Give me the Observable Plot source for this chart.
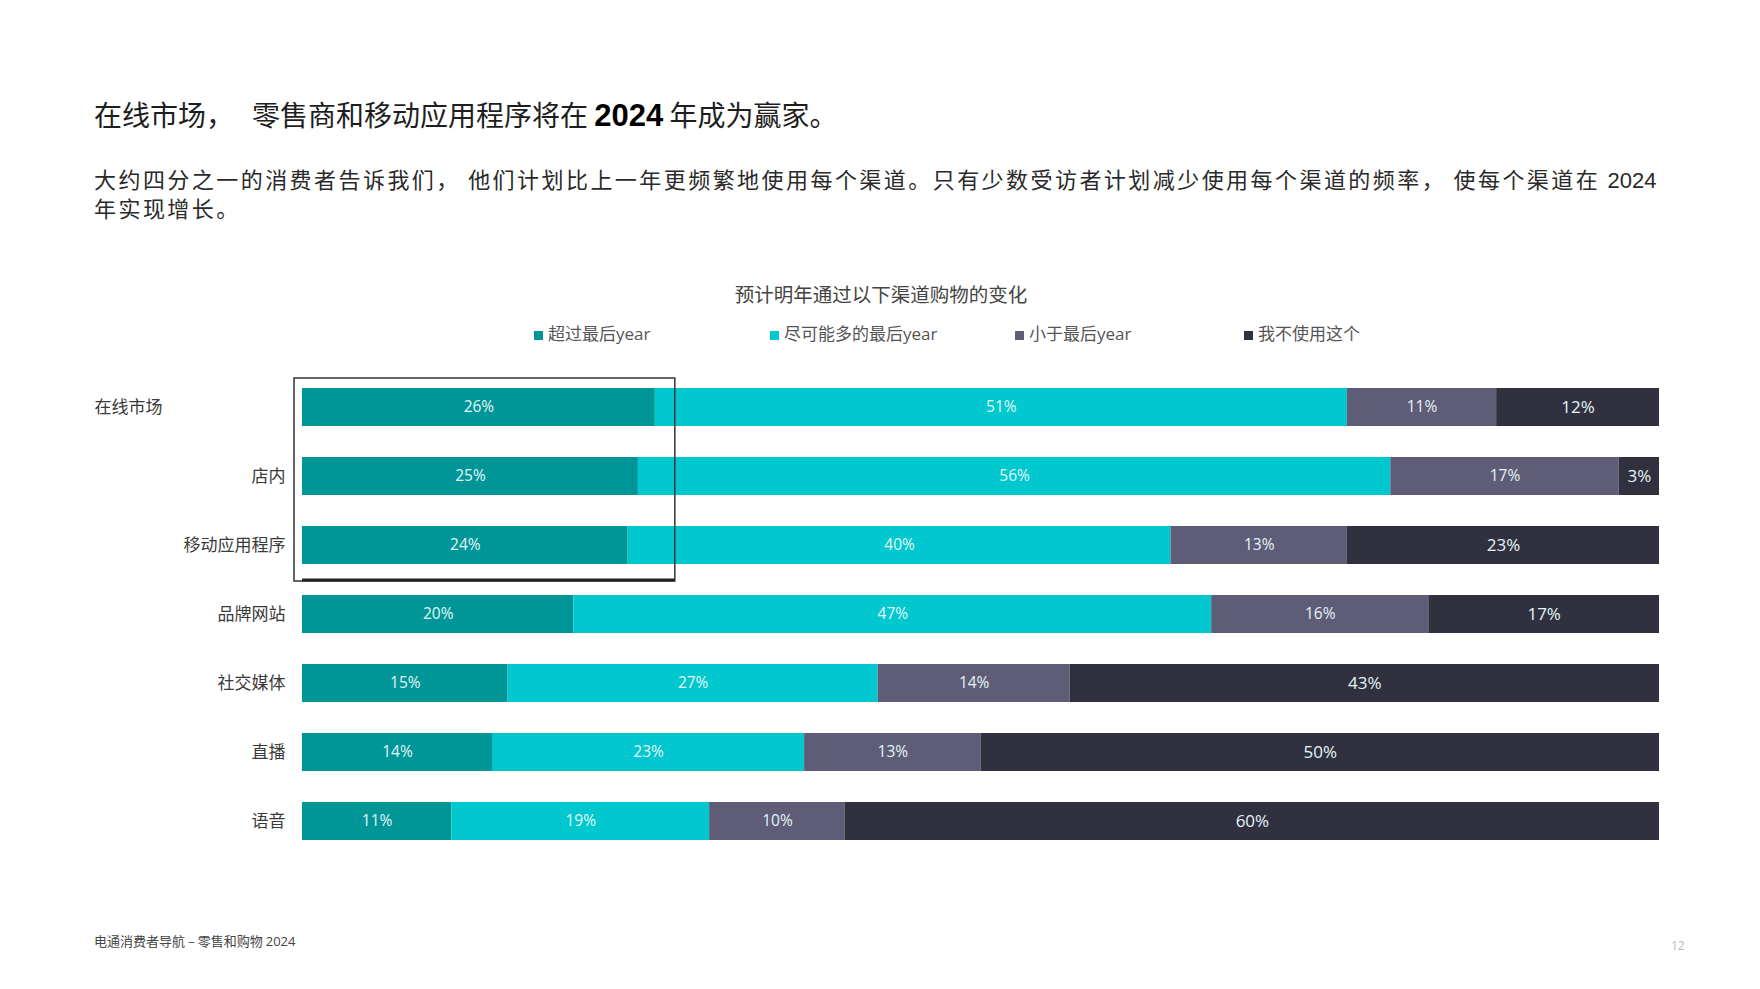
<!DOCTYPE html>
<html>
<head>
<meta charset="utf-8">
<script src="https://cdn.jsdelivr.net/npm/d3@7"></script>
<script src="https://cdn.jsdelivr.net/npm/@observablehq/plot@0.6"></script>
<style>
  body { margin: 0; background: #fff; }
  #page { position: relative; width: 1760px; height: 989px; font-family: "Noto Sans CJK SC", "Noto Sans", sans-serif; color: #222; overflow: hidden; }
  .abs { position: absolute; white-space: nowrap; }
  #title { left: 94px; top: 95px; font-size: 28px; line-height: 38px; color: #1e1e1e; }
  #title b { font-family: "Liberation Sans", Arial, sans-serif; font-weight: 700; color: #000; font-size: 31px; line-height: 1; }
  #sub { left: 94px; top: 164px; font-size: 22px; line-height: 29px; color: #2a2a2a; letter-spacing: 2.45px; }
  #sub .num { font-family: "Liberation Sans", Arial, sans-serif; letter-spacing: 0; line-height: 1; }
  #ctitle { left: 631px; width: 500px; top: 281px; text-align: center; font-size: 19.5px; line-height: 26px; color: #444; }
  .leg { top: 322px; font-size: 17px; line-height: 22px; color: #555; }
  .leg i { display: inline-block; width: 9px; height: 9px; margin-right: 5px; vertical-align: 0px; }
  .leg .y { font-family: "Open Sans", sans-serif; }
  #chart { left: 0; top: 341px; }
  #footer { left: 94px; top: 932px; font-size: 13px; line-height: 18px; color: #444; }
  #footer .num { font-family: "Open Sans", sans-serif; }
  #pageno { left: 1671px; top: 937px; font-size: 12px; line-height: 18px; color: #bbb; font-family: "Open Sans", sans-serif; }
</style>
</head>
<body>
<div id="page">
  <div id="title" class="abs">在线市场，<span style="display:inline-block;width:18px"></span>零售商和移动应用程序将在 <b>2024</b> 年成为赢家。</div>
  <div id="sub" class="abs">大约四分之一的消费者告诉我们， 他们计划比上一年更频繁地使用每个渠道。只有少数受访者计划减少使用每个渠道的频率， 使每个渠道在 <span class="num">2024</span><br>年实现增长。</div>
  <div id="ctitle" class="abs">预计明年通过以下渠道购物的变化</div>
  <div id="legend"></div>
  <div id="chart" class="abs"></div>
  <div id="footer" class="abs">电通消费者导航 – 零售和购物 <span class="num">2024</span></div>
  <div id="pageno" class="abs">12</div>
</div>
<script>
// ---- data ----
const channels = ["在线市场", "店内", "移动应用程序", "品牌网站", "社交媒体", "直播", "语音"];
const seriesNames = ["超过最后year", "尽可能多的最后year", "小于最后year", "我不使用这个"];
const moreThanLastYear = [26, 25, 24, 20, 15, 14, 11];
const asMuchAsLastYear = [51, 56, 40, 47, 27, 23, 19];
const lessThanLastYear = [11, 17, 13, 16, 14, 13, 10];
const doNotUse        = [12, 3, 23, 17, 43, 50, 60];
const seriesColors = ["#009597", "#00c8ce", "#5f5c78", "#30303f"];
const highlighted = channels.slice(0, 3);

const seriesValues = [moreThanLastYear, asMuchAsLastYear, lessThanLastYear, doNotUse];
const rows = [];
channels.forEach((c, i) => {
  seriesNames.forEach((s, j) => rows.push({channel: c, series: s, value: seriesValues[j][i]}));
});
const totals = channels.map((c, i) => d3.sum(seriesValues, v => v[i]));

// ---- legend ----
const legendX = [534, 770, 1015, 1244];
const legend = document.getElementById("legend");
seriesNames.forEach((s, j) => {
  const el = document.createElement("div");
  el.className = "abs leg";
  el.style.left = legendX[j] + "px";
  const m = s.match(/^(.*?)(year)?$/);
  el.innerHTML = `<i style="background:${seriesColors[j]}"></i>${m[1]}${m[2] ? '<span class="y">year</span>' : ''}`;
  legend.appendChild(el);
});

// ---- chart ----
const chart = Plot.plot({
  width: 1760,
  height: 541,
  marginLeft: 302,
  marginRight: 101,
  marginTop: 15,
  marginBottom: 10,
  style: {fontFamily: "'Noto Sans CJK SC', sans-serif", background: "transparent"},
  x: {axis: null, domain: [0, 1]},
  y: {domain: channels, padding: 0.45, axis: null},
  color: {domain: seriesNames, range: seriesColors},
  marks: [
    Plot.barX(rows, Plot.stackX({x: "value", y: "channel", fill: "series", offset: "normalize", order: seriesNames})),
    Plot.text(rows, Plot.stackX({
      x: "value", y: "channel", z: "series", offset: "normalize", order: seriesNames,
      text: d => d.value + "%", fill: "#e4f6f7",
      fontSize: d => d.series === seriesNames[3] ? 17 : 15.5,
      fontFamily: "'Open Sans', sans-serif"
    })),
    Plot.axisY({tickSize: 0, tickPadding: 17, fontSize: 17, color: "#3a3a3a", label: null,
      tickFormat: d => d === channels[0] ? "" : d}),
    Plot.text([channels[0]], {y: d => d, text: d => d, frameAnchor: "left", textAnchor: "start",
      dx: -208, fontSize: 17, fill: "#3a3a3a"})
  ]
});
document.getElementById("chart").appendChild(chart);

// highlight box around first segments of the top three channels
const xs = chart.scale("x"), ys = chart.scale("y");
const maxShare = d3.max(highlighted, (c, i) => moreThanLastYear[i] / totals[i]);
const bx0 = xs.apply(0) - 8, bx1 = xs.apply(maxShare) + 20;
const by0 = ys.apply(highlighted[0]) - 10;
const by1 = ys.apply(highlighted[highlighted.length - 1]) + ys.bandwidth + 17;
const svg = d3.select(chart);
svg.append("rect").attr("x", bx0).attr("y", by0).attr("width", bx1 - bx0).attr("height", by1 - by0)
  .attr("fill", "none").attr("stroke", "#333").attr("stroke-width", 1.5);
svg.append("line").attr("x1", bx0 + 8).attr("x2", bx1).attr("y1", by1 - 1).attr("y2", by1 - 1)
  .attr("stroke", "#222").attr("stroke-width", 3);
</script>
</body>
</html>
